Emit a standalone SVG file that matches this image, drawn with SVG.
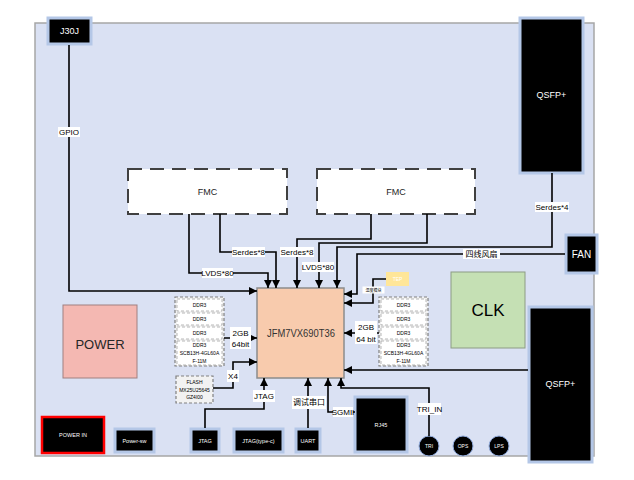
<svg xmlns="http://www.w3.org/2000/svg" width="634" height="480" viewBox="0 0 634 480">
<style>
  text { font-family: "Liberation Sans", "Noto Sans CJK SC", sans-serif; text-anchor: middle; dominant-baseline: central; }
  .w { fill: #ffffff; }
  .blk { fill: #000000; stroke: #b4c7e7; stroke-width: 3; }
  .conn { fill: none; stroke: #000000; stroke-width: 1.6; }
  .lbg { fill: #ffffff; }
  .lbl { font-size: 8px; fill: #000000; }
  .fmc { fill: #ffffff; stroke: #404040; stroke-width: 2; stroke-dasharray: 14 8; }
  .ddrc { fill: #f2f2f2; stroke: #808080; stroke-width: 1.2; stroke-dasharray: 3 2; }
  .ddr { fill: #ffffff; stroke: #a6a6a6; stroke-width: 0.8; stroke-dasharray: 3 2; }
  .tiny { font-size: 5px; fill: #000000; }
  .circ { fill: #000000; stroke: #8faadc; stroke-width: 1; }
</style>
<defs>
  <marker id="arr" markerWidth="8" markerHeight="8" refX="8" refY="4" orient="auto" markerUnits="userSpaceOnUse">
    <path d="M0,0 L8,4 L0,8 Z" fill="#000000"/>
  </marker>
</defs>

<g id="board">
  <rect x="35" y="23" width="559" height="433" fill="#dae1f3" stroke="#a6a6a6" stroke-width="1.5"/>
</g>

<g id="j30j"><rect class="blk" x="48" y="18" width="43" height="26"/><text class="w" x="69.5" y="31" font-size="9">J30J</text></g>
<g id="qsfp-top"><rect class="blk" x="520" y="18" width="63" height="155"/><text class="w" x="551.5" y="95" font-size="9">QSFP+</text></g>
<g id="qsfp-bottom"><rect class="blk" x="529" y="307" width="63" height="155"/><text class="w" x="560.5" y="384" font-size="9">QSFP+</text></g>
<g id="fan"><rect class="blk" x="566" y="235" width="31" height="38"/><text class="w" x="581.5" y="254" font-size="10">FAN</text></g>
<g id="fmc1"><rect class="fmc" x="128" y="169" width="159" height="45"/><text x="207.5" y="191.5" font-size="9" fill="#262626">FMC</text></g>
<g id="fmc2"><rect class="fmc" x="317" y="169" width="158" height="45"/><text x="396" y="191.5" font-size="9" fill="#262626">FMC</text></g>
<g id="fpga"><rect x="257" y="288" width="87" height="90" fill="#f8cbad" stroke="#8c8c8c" stroke-width="1.5"/><text x="301" y="333" font-size="11" font-family="Liberation Serif, serif" fill="#333333" textLength="68" lengthAdjust="spacingAndGlyphs">JFM7VX690T36</text></g>
<g id="power"><rect x="63" y="305" width="74" height="73" fill="#f4b8b2" stroke="#a08080" stroke-width="1"/><text x="100" y="344" font-size="13" fill="#262626">POWER</text></g>
<g id="clk"><rect x="451" y="272" width="74" height="76" fill="#c5e0b4" stroke="#8c9c84" stroke-width="1"/><text x="488" y="310" font-size="17" fill="#000000">CLK</text></g>
<g id="tep"><rect x="386" y="272" width="23" height="14" fill="#ffe699"/><text class="w" x="397.5" y="279" font-size="5">TEP</text></g>

<g id="ddr-left">
  <rect class="ddrc" x="175" y="297" width="49" height="69"/>
  <rect class="ddr" x="177" y="299" width="45" height="12"/><text class="tiny" x="199.5" y="305">DDR3</text>
  <rect class="ddr" x="177" y="313" width="45" height="12"/><text class="tiny" x="199.5" y="319">DDR3</text>
  <rect class="ddr" x="177" y="327" width="45" height="12"/><text class="tiny" x="199.5" y="333">DDR3</text>
  <rect class="ddr" x="177" y="341" width="45" height="24"/>
  <text class="tiny" x="199.5" y="345">DDR3</text><text class="tiny" x="199.5" y="353">SCB13H-4GL60A</text><text class="tiny" x="199.5" y="361">F-11M</text>
</g>
<g id="ddr-right">
  <rect class="ddrc" x="379" y="297" width="49" height="69"/>
  <rect class="ddr" x="381" y="299" width="45" height="12"/><text class="tiny" x="403.5" y="305">DDR3</text>
  <rect class="ddr" x="381" y="313" width="45" height="12"/><text class="tiny" x="403.5" y="319">DDR3</text>
  <rect class="ddr" x="381" y="327" width="45" height="12"/><text class="tiny" x="403.5" y="333">DDR3</text>
  <rect class="ddr" x="381" y="341" width="45" height="24"/>
  <text class="tiny" x="403.5" y="345">DDR3</text><text class="tiny" x="403.5" y="353">SCB13H-4GL60A</text><text class="tiny" x="403.5" y="361">F-11M</text>
</g>
<g id="flash"><rect class="ddrc" x="176" y="376" width="37" height="27" fill="#f8f8f8"/><text class="tiny" x="194.5" y="382">FLASH</text><text class="tiny" x="194.5" y="389.5">MX25U25645</text><text class="tiny" x="194.5" y="397">GZ4I00</text></g>

<g id="power-in"><rect x="42" y="417" width="62" height="36" fill="#000000" stroke="#ff0000" stroke-width="2.5"/><text class="w" x="73" y="435" font-size="5.5">POWER IN</text></g>
<g id="power-sw"><rect class="blk" x="115" y="429" width="39" height="23"/><text class="w" x="134.5" y="440.5" font-size="5.5">Power-sw</text></g>
<g id="jtag"><rect class="blk" x="191" y="429" width="28" height="23"/><text class="w" x="205" y="440.5" font-size="5.5">JTAG</text></g>
<g id="jtag-typec"><rect class="blk" x="234" y="429" width="49" height="23"/><text class="w" x="258.5" y="440.5" font-size="5.5">JTAG(type-c)</text></g>
<g id="uart"><rect class="blk" x="296" y="429" width="24" height="23"/><text class="w" x="308" y="440.5" font-size="5.5">UART</text></g>
<g id="rj45"><rect class="blk" x="355" y="397" width="52" height="55"/><text class="w" x="381" y="424.5" font-size="5.5">RJ45</text></g>
<g id="tri"><circle class="circ" cx="429" cy="446" r="10"/><text class="w" x="429" y="446" font-size="5">TRI</text></g>
<g id="ops"><circle class="circ" cx="463" cy="446" r="10"/><text class="w" x="463" y="446" font-size="5">OPS</text></g>
<g id="lps"><circle class="circ" cx="499" cy="446" r="10"/><text class="w" x="499" y="446" font-size="5">LPS</text></g>

<g id="connectors">
  <path class="conn" d="M69,45 V291 H257" marker-end="url(#arr)"/>
  <path class="conn" d="M189,214 V273 H268 V288" marker-end="url(#arr)"/>
  <path class="conn" d="M220,214 V252 H276 V288" marker-end="url(#arr)"/>
  <path class="conn" d="M371,214 V239 H297 V288" marker-end="url(#arr)"/>
  <path class="conn" d="M427,214 V243 H319 V288" marker-end="url(#arr)"/>
  <path class="conn" d="M552,173 V247 H337 V288" marker-end="url(#arr)"/>
  <path class="conn" d="M565,254 H357 V294 H344" marker-end="url(#arr)"/>
  <path class="conn" d="M386,279 H373 V303 H344" marker-end="url(#arr)"/>
  <path class="conn" d="M224,338 H257" marker-end="url(#arr)"/>
  <path class="conn" d="M379,333 H344" marker-end="url(#arr)"/>
  <path class="conn" d="M213,388 H233 V362 H257" marker-end="url(#arr)"/>
  <path class="conn" d="M528,370 H344" marker-end="url(#arr)"/>
  <path class="conn" d="M205,428 V409 H264 V378" marker-end="url(#arr)"/>
  <path class="conn" d="M308,428 V378" marker-end="url(#arr)"/>
  <path class="conn" d="M355,412 H328 V378" marker-end="url(#arr)"/>
  <path class="conn" d="M429,436 V388 H341 V378" marker-end="url(#arr)"/>

  <rect class="lbg" x="58" y="127" width="22" height="10"/><text class="lbl" x="69" y="132" font-size="7">GPIO</text>
  <rect class="lbg" x="202" y="268" width="31" height="10"/><text class="lbl" x="217.5" y="273">LVDS*80</text>
  <rect class="lbg" x="232" y="247" width="33" height="10"/><text class="lbl" x="248.5" y="252">Serdes*8</text>
  <rect class="lbg" x="280" y="247" width="34" height="10"/><text class="lbl" x="297" y="252">Serdes*8</text>
  <rect class="lbg" x="302" y="262" width="32" height="10"/><text class="lbl" x="318" y="267">LVDS*80</text>
  <rect class="lbg" x="535" y="202" width="34" height="10"/><text class="lbl" x="552" y="207">Serdes*4</text>
  <rect class="lbg" x="463" y="249" width="37" height="10"/><text class="lbl" x="481.5" y="254">四线风扇</text>
  <rect class="lbg" x="362.5" y="286.5" width="22" height="7"/><text class="lbl" transform="translate(373.5,290) scale(0.5)" x="0" y="0" font-size="10">温度模块</text>
  <rect class="lbg" x="230" y="327" width="21" height="22"/><text class="lbl" x="240.5" y="333" font-size="9">2GB</text><text class="lbl" x="240.5" y="344" font-size="9">64bit</text>
  <rect class="lbg" x="355" y="321" width="22" height="23"/><text class="lbl" x="366" y="327" font-size="9">2GB</text><text class="lbl" x="366" y="339" font-size="9">64 bit</text>
  <rect class="lbg" x="227" y="370" width="12" height="12"/><text class="lbl" x="233" y="376" font-size="9">X4</text>
  <rect class="lbg" x="253" y="390" width="22" height="12"/><text class="lbl" x="264" y="396" font-size="9">JTAG</text>
  <rect class="lbg" x="292" y="396" width="34" height="13"/><text class="lbl" x="309" y="402.5" font-size="9">调试串口</text>
  <rect class="lbg" x="333" y="407" width="20" height="10"/><text class="lbl" x="343" y="412" font-size="6.5">SGMII</text>
  <rect class="lbg" x="418" y="403" width="23" height="12"/><text class="lbl" x="429.5" y="409">TRI_IN</text>
</g>
</svg>
